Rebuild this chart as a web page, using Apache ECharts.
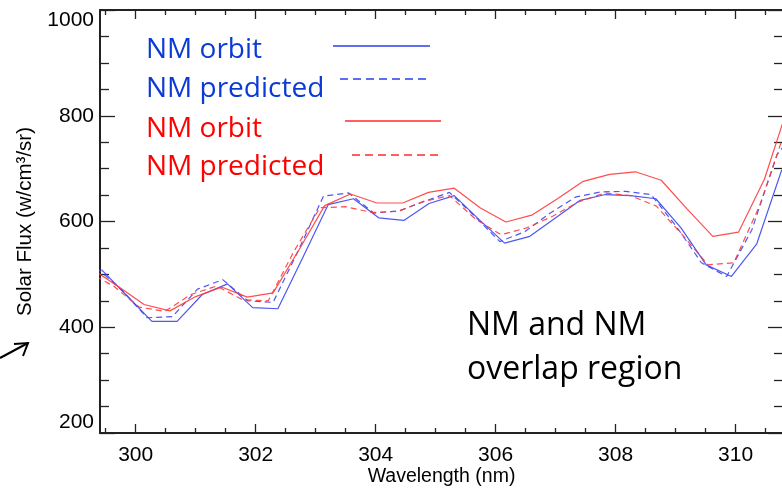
<!DOCTYPE html>
<html><head><meta charset="utf-8">
<script src="https://cdn.jsdelivr.net/npm/echarts@6/dist/echarts.min.js"></script>
<style>html,body{margin:0;padding:0;background:#fff;}#c{width:782px;height:488px;}</style>
</head><body><div id="c"></div>
<script>
// Wavelength grids (nm) for each curve
const wlBlueOrbit = [299.43, 299.85, 300.27, 300.69, 301.11, 301.53, 301.95, 302.37, 302.79, 303.21, 303.63, 304.05, 304.47, 304.89, 305.31, 305.73, 306.15, 306.57, 306.99, 307.41, 307.83, 308.25, 308.67, 309.09, 309.51, 309.93, 310.35, 310.77];
const blueOrbit = [509, 460, 411, 411, 462, 482, 437, 435, 533, 632, 643, 607, 602, 634, 649, 603, 559, 572, 606, 640, 651, 649, 643, 588, 518, 496, 557, 698];

const wlBluePred = [299.35, 299.77, 300.19, 300.61, 301.03, 301.45, 301.87, 302.29, 302.71, 303.13, 303.55, 303.97, 304.39, 304.81, 305.23, 305.65, 306.07, 306.49, 306.91, 307.33, 307.75, 308.17, 308.59, 309.01, 309.43, 309.85, 310.27, 310.69, 311.11];
const bluePred = [512, 470, 418, 420, 472, 490, 450, 447, 545, 648, 654, 616, 620, 638, 655, 610, 562, 581, 616, 646, 656, 657, 651, 591, 522, 496, 584, 726, 790];

const wlRedOrbit = [299.27, 299.71, 300.14, 300.57, 301.00, 301.43, 301.86, 302.29, 302.72, 303.15, 303.58, 304.02, 304.45, 304.88, 305.31, 305.74, 306.17, 306.60, 307.03, 307.46, 307.90, 308.33, 308.76, 309.19, 309.62, 310.05, 310.48, 310.91];
const redOrbit = [510, 477, 443, 431, 458, 476, 457, 465, 546, 630, 652, 635, 635, 655, 663, 626, 599, 612, 643, 676, 689, 694, 678, 624, 572, 580, 680, 830];

const wlRedPred = [299.19, 299.63, 300.06, 300.49, 300.92, 301.35, 301.78, 302.21, 302.64, 303.07, 303.50, 303.94, 304.37, 304.80, 305.23, 305.66, 306.09, 306.52, 306.95, 307.38, 307.82, 308.25, 308.68, 309.11, 309.54, 309.97, 310.40, 310.83];
const redPred = [505, 478, 438, 430, 462, 478, 452, 450, 544, 626, 628, 617, 619, 638, 649, 605, 575, 588, 610, 637, 654, 649, 629, 575, 518, 522, 630, 773];

const xMajorTicks = [300, 302, 304, 306, 308, 310];
const xMinorTicks = [299.5, 300.5, 301, 301.5, 302.5, 303, 303.5, 304.5, 305, 305.5, 306.5, 307, 307.5, 308.5, 309, 309.5, 310.5];
const yMin = 200, yMax = 1000, yStep = 200;
const xMin = 299.405, xMax = 310.79;

const legendLabels = ['NM orbit', 'NM predicted', 'NM orbit', 'NM predicted'];
const noteLines = ['NM and NM', 'overlap region'];

const BLUE = '#3a46f0', RED = '#ff3a3a';
const BLUE_TXT = '#0b3bd6', RED_TXT = '#ff0000';
const AX = '#222';
const FONT = '"Liberation Sans", Arial, sans-serif';

function pairs(xs, ys) { return xs.map((x, i) => [x, ys[i]]); }

const chart = echarts.init(document.getElementById('c'), null, {renderer: 'canvas'});

function xAx(pos, ticks, len, labels) {
  return {
    type: 'value', position: pos, min: xMin, max: xMax,
    axisLine: {show: labels !== null, lineStyle: {color: AX, width: 2}},
    axisTick: {show: true, inside: true, length: len, customValues: ticks, lineStyle: {color: AX, width: 1.3}},
    axisLabel: labels ? {show: true, customValues: ticks, fontFamily: FONT, fontSize: 21, color: '#000', margin: 12,
      formatter: v => String(v)} : {show: false},
    splitLine: {show: false}
  };
}

const xAxes = [
  Object.assign(xAx('bottom', xMajorTicks, 9, true), {
    name: 'Wavelength (nm)', nameLocation: 'middle', nameGap: 34, nameMoveOverlap: false,
    nameTextStyle: {fontFamily: FONT, fontSize: 19.5, color: '#000'}
  }),
  xAx('bottom', xMinorTicks, 5, false),
  xAx('top', xMajorTicks, 9, false),
  xAx('top', xMinorTicks, 5, false)
];
xAxes[1].axisLine.show = false;
xAxes[3].axisLine.show = false;
xAxes[2].axisLine.show = true;

const yAxes = [
  {
    type: 'value', position: 'left', min: yMin, max: yMax, interval: yStep,
    axisLine: {show: true, lineStyle: {color: AX, width: 2}},
    axisTick: {show: true, inside: true, length: 15, lineStyle: {color: AX, width: 1.3}},
    minorTick: {show: true, splitNumber: 4, length: 9, lineStyle: {color: AX, width: 1.3}},
    axisLabel: {fontFamily: FONT, fontSize: 21, color: '#000', margin: 6,
      formatter: v => String(v),
      verticalAlignMinLabel: 'bottom', verticalAlignMaxLabel: 'top'},
    splitLine: {show: false},
    name: 'Solar Flux (w/cm³/sr)', nameLocation: 'middle', nameGap: 64, nameMoveOverlap: false,
    nameTextStyle: {fontFamily: FONT, fontSize: 20.5, color: '#000'}
  },
  {
    type: 'value', position: 'right', min: yMin, max: yMax, interval: yStep,
    axisLine: {show: true, lineStyle: {color: AX, width: 2}},
    axisTick: {show: true, inside: true, length: 15, lineStyle: {color: AX, width: 1.3}},
    minorTick: {show: true, splitNumber: 4, length: 9, lineStyle: {color: AX, width: 1.3}},
    axisLabel: {show: false},
    splitLine: {show: false}
  }
];

function lineSeries(name, xs, ys, color, dashed) {
  return {
    name: name, type: 'line', xAxisIndex: 0, yAxisIndex: 0,
    data: pairs(xs, ys), showSymbol: false, symbol: 'none', clip: true,
    lineStyle: {color: color, width: 1.2, type: dashed ? [6, 4] : 'solid', opacity: 0.9},
    emphasis: {disabled: true}
  };
}

const legendY = [50.5, 89, 129, 167];
const legendLineY = [46, 79, 121, 155];
const legendLineX = [[333, 430], [340, 430], [345, 441], [352, 441]];
const legendColors = [BLUE_TXT, BLUE_TXT, RED_TXT, RED_TXT];
const legendLineColors = ['#2a3ff0', '#2a3ff0', '#ff2a2a', '#ff2a2a'];
const legendDashed = [false, true, false, true];

const graphics = [];
legendLabels.forEach((t, i) => {
  graphics.push({type: 'text', silent: true, style: {x: 146, y: legendY[i], text: t, fill: legendColors[i],
    fontFamily: '"Open Sans", sans-serif', fontSize: 28, verticalAlign: 'middle', align: 'left'}});
  graphics.push({type: 'line', silent: true, shape: {x1: legendLineX[i][0], y1: legendLineY[i], x2: legendLineX[i][1], y2: legendLineY[i]},
    style: {stroke: legendLineColors[i], lineWidth: 1.5, lineDash: legendDashed[i] ? [8, 5] : null}});
});
const noteY = [326, 370];
noteLines.forEach((t, i) => {
  graphics.push({type: 'text', silent: true, style: {x: 467, y: noteY[i], text: t, fill: '#000',
    fontFamily: '"Open Sans", sans-serif', fontSize: 32, verticalAlign: 'middle', align: 'left'}});
});
graphics.push({type: 'polyline', silent: true, shape: {points: [[0, 358], [28, 343]]}, style: {stroke: '#000', lineWidth: 2, fill: null}});
graphics.push({type: 'polyline', silent: true, shape: {points: [[14, 344], [28, 343], [23, 356]]}, style: {stroke: '#000', lineWidth: 2, fill: null}});

chart.setOption({
  animation: false,
  backgroundColor: '#fff',
  grid: {left: 100, top: 10, width: 683, height: 423, containLabel: false, outerBoundsMode: 'none'},
  xAxis: xAxes,
  yAxis: yAxes,
  series: [
    lineSeries('NM orbit (blue)', wlBlueOrbit, blueOrbit, BLUE, false),
    lineSeries('NM predicted (blue)', wlBluePred, bluePred, BLUE, true),
    lineSeries('NM orbit (red)', wlRedOrbit, redOrbit, RED, false),
    lineSeries('NM predicted (red)', wlRedPred, redPred, RED, true)
  ],
  graphic: graphics
});
</script>
</body></html>
